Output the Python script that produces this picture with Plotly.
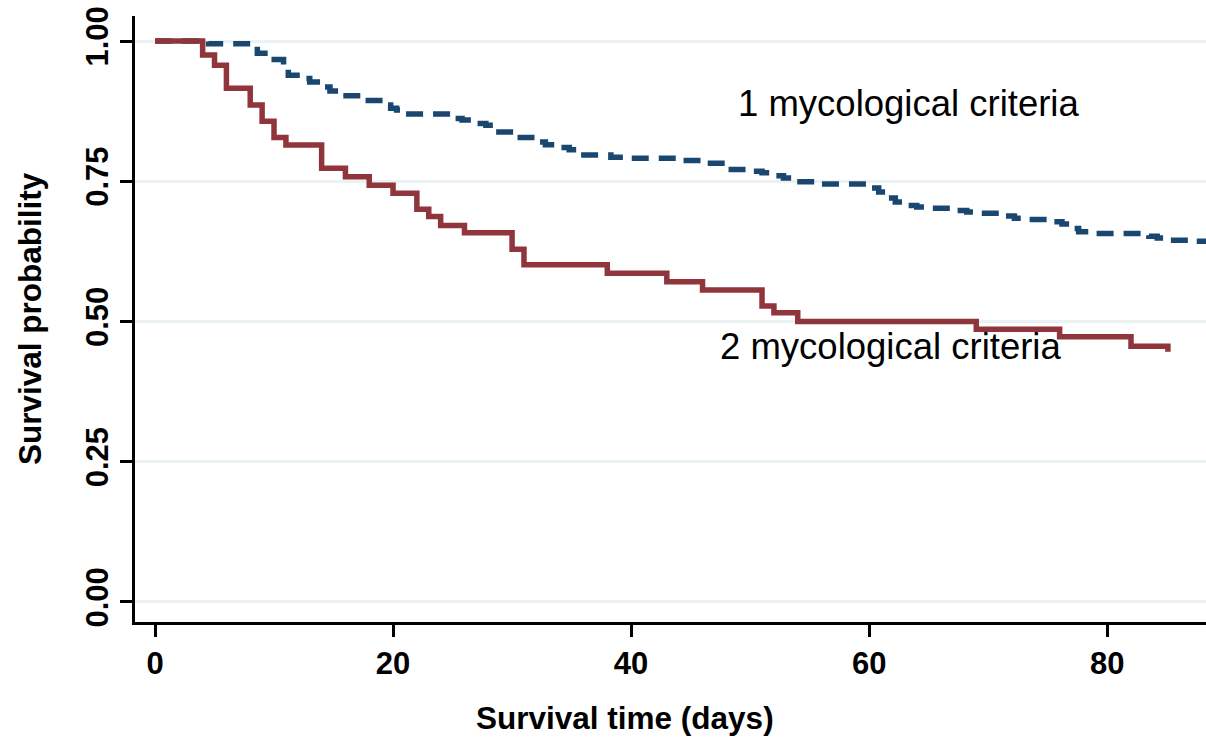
import plotly.graph_objects as go

# Kaplan-Meier step data (time in days, survival probability after the step)
one_crit_days = [0, 4.5, 8, 8.6, 9.6, 10.8, 11.2, 12.5, 13, 14, 14.7, 15.7, 17.6, 19.2, 19.8, 20.3, 20.8,
                 25.1, 25.8, 27, 27.8, 28.5, 30.2, 32, 32.8, 34, 34.8, 35.6, 38.3, 39.6, 44, 46.1, 48,
                 50.3, 51, 52, 52.8, 53.8, 55.7, 59.8, 60.8, 61.6, 62.2, 63, 64, 65.2, 67.4, 68.2, 69.3,
                 71.3, 72.2, 73.3, 75.3, 76.2, 76.9, 77.6, 79, 83.5, 84.2, 85.3, 87.5, 90]
one_crit_surv = [1.0, 0.995, 0.985, 0.978, 0.967, 0.95, 0.939, 0.933, 0.927, 0.918, 0.911, 0.9025, 0.894,
                 0.886, 0.88, 0.877, 0.870, 0.862, 0.859, 0.853, 0.850, 0.838, 0.828, 0.82, 0.815, 0.81,
                 0.806, 0.797, 0.793, 0.791, 0.787, 0.782, 0.771, 0.768, 0.765, 0.760, 0.756, 0.749,
                 0.745, 0.738, 0.731, 0.72, 0.713, 0.707, 0.704, 0.702, 0.698, 0.695, 0.693, 0.688,
                 0.684, 0.682, 0.678, 0.674, 0.666, 0.66, 0.657, 0.652, 0.649, 0.645, 0.643, 0.643]

two_crit_days = [0, 4, 5, 6, 8, 9, 10, 11, 14, 16, 18, 20, 22, 23, 24, 26, 30, 31, 38, 43, 46, 51, 52,
                 54, 69, 76, 82, 85.1]
two_crit_surv = [1.0, 0.975, 0.957, 0.9157, 0.886, 0.857, 0.828, 0.8146, 0.773, 0.758, 0.743, 0.7286,
                 0.700, 0.687, 0.671, 0.658, 0.629, 0.601, 0.586, 0.571, 0.556, 0.5276, 0.5157, 0.50,
                 0.486, 0.473, 0.456, 0.446]

x_ticks = [0, 20, 40, 60, 80]
y_ticks = [0.0, 0.25, 0.5, 0.75, 1.0]

label_one = "1 mycological criteria"
label_two = "2 mycological criteria"
x_title = "Survival time (days)"
y_title = "Survival probability"

NAVY = "#1a476f"
MAROON = "#90353b"
FONT = "Liberation Sans, Arial, sans-serif"

fig = go.Figure()
fig.add_trace(go.Scatter(x=one_crit_days, y=one_crit_surv, mode="lines", line_shape="hv",
                         line=dict(color=NAVY, width=5.5, dash="17px,10px"), showlegend=False,
                         name=label_one))
fig.add_trace(go.Scatter(x=two_crit_days, y=two_crit_surv, mode="lines", line_shape="hv",
                         line=dict(color=MAROON, width=5.5), showlegend=False, name=label_two))

fig.add_annotation(x=63.3, y=0.889, xref="x", yref="y", text=label_one, showarrow=False,
                   font=dict(family=FONT, size=36.5, color="black"), xanchor="center", yanchor="middle")
fig.add_annotation(x=61.8, y=0.455, xref="x", yref="y", text=label_two, showarrow=False,
                   font=dict(family=FONT, size=36.5, color="black"), xanchor="center", yanchor="middle")

fig.add_annotation(x=0.4575, y=-0.158, xref="paper", yref="paper", text=x_title, showarrow=False,
                   font=dict(family=FONT, size=31.5, color="black", weight="bold"),
                   xanchor="center", yanchor="middle")
fig.add_annotation(x=-0.098, y=0.5, xref="paper", yref="paper", text=y_title, showarrow=False,
                   textangle=-90, font=dict(family=FONT, size=31.5, color="black", weight="bold"),
                   xanchor="center", yanchor="middle")

fig.update_xaxes(range=[-1.68, 88.3], tickvals=x_ticks, ticks="outside", ticklen=12, tickwidth=2.5,
                 tickcolor="black", showline=True, linecolor="black", linewidth=3, showgrid=False,
                 zeroline=False, tickfont=dict(family=FONT, size=31, color="black", weight="bold"))
fig.update_yaxes(range=[-0.0357, 1.0446], tickvals=y_ticks, tickformat=".2f", ticks="outside",
                 ticklen=12, tickwidth=2.5, tickcolor="black", showline=True, linecolor="black",
                 linewidth=3, showgrid=True, gridcolor="#eaf2f3", gridwidth=2.5, zeroline=False,
                 tickangle=-90,
                 tickfont=dict(family=FONT, size=31, color="black", weight="bold"))

fig.update_layout(width=1206, height=737, margin=dict(l=135, r=0, t=16, b=115),
                  plot_bgcolor="white", paper_bgcolor="white")

fig.write_html("out.html", config={"displayModeBar": False},
               post_script="document.body.style.margin='0px';document.body.style.overflow='hidden';")
